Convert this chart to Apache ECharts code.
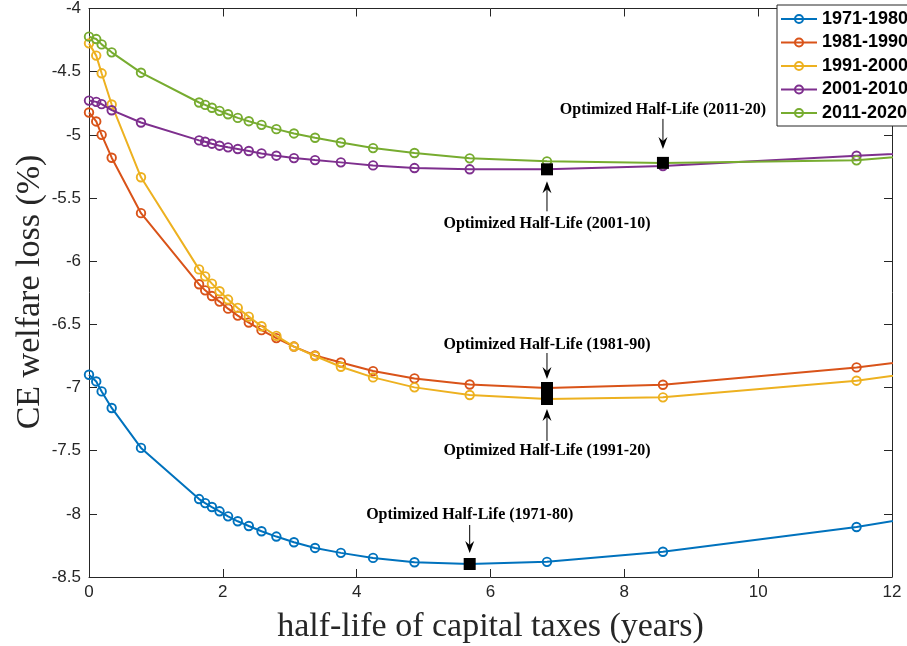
<!DOCTYPE html>
<html><head><meta charset="utf-8">
<script src="https://cdn.jsdelivr.net/npm/echarts@6/dist/echarts.min.js"></script>
<style>html,body{margin:0;padding:0;background:#fff}#c{width:907px;height:646px}</style>
</head><body><div id="c"></div>
<script>
// half-life of capital taxes (years)
const halfLife = [0, 0.108, 0.189, 0.339, 0.777, 1.645, 1.736, 1.837, 1.951, 2.078, 2.223, 2.388,
  2.578, 2.800, 3.063, 3.378, 3.764, 4.245, 4.864, 5.689, 6.844, 8.577, 11.47, 17.24];
// CE welfare loss (%)
const loss1971 = [-6.899, -6.952, -7.031, -7.162, -7.478, -7.883, -7.915, -7.946, -7.980, -8.020, -8.059, -8.096,
  -8.138, -8.180, -8.225, -8.270, -8.309, -8.349, -8.383, -8.397, -8.380, -8.300, -8.104, -7.61];
const loss1981 = [-4.823, -4.894, -5.000, -5.181, -5.620, -6.183, -6.231, -6.276, -6.320, -6.376, -6.431, -6.486,
  -6.546, -6.609, -6.676, -6.747, -6.802, -6.870, -6.928, -6.976, -7.004, -6.978, -6.841, -6.47];
const loss1991 = [-4.276, -4.373, -4.513, -4.760, -5.336, -6.065, -6.120, -6.178, -6.238, -6.304, -6.370, -6.439,
  -6.515, -6.591, -6.676, -6.751, -6.836, -6.920, -6.999, -7.059, -7.091, -7.078, -6.946, -6.54];
const loss2001 = [-4.729, -4.739, -4.757, -4.805, -4.902, -5.044, -5.055, -5.070, -5.086, -5.099, -5.112, -5.128,
  -5.147, -5.165, -5.184, -5.200, -5.218, -5.242, -5.263, -5.273, -5.273, -5.247, -5.165, -5.02];
const loss2011 = [-4.223, -4.242, -4.284, -4.347, -4.508, -4.744, -4.763, -4.786, -4.810, -4.837, -4.866, -4.892,
  -4.921, -4.955, -4.989, -5.023, -5.061, -5.105, -5.144, -5.186, -5.210, -5.222, -5.202, -4.94];

const seriesNames = ['1971-1980', '1981-1990', '1991-2000', '2001-2010', '2011-2020'];
const seriesValues = [loss1971, loss1981, loss1991, loss2001, loss2011];
const seriesColors = ['#0072BD', '#D95319', '#EDB120', '#7E2F8E', '#77AC30'];

// optimum (minimum-loss) point index per series, with its annotation
const optimumIndex = [19, 20, 20, 20, 21];
const optimumLabels = ['Optimized Half-Life (1971-80)', 'Optimized Half-Life (1981-90)',
  'Optimized Half-Life (1991-20)', 'Optimized Half-Life (2001-10)', 'Optimized Half-Life (2011-20)'];

const xAxisMin = 0, xAxisMax = 12, xAxisStep = 2;
const yAxisMin = -8.5, yAxisMax = -4, yAxisStep = 0.5;
const xAxisTitle = 'half-life of capital taxes (years)';
const yAxisTitle = 'CE welfare loss (%)';

// annotation layout (pixel offsets from the marked point): [text, arrow tail, arrow tip]
const annotLayout = [[-49, -39, -11], [-43, -35, -9], [52, 42, 10], [55, 42, 12], [-53, -44, -14]];

const AX = '#262626';
const chart = echarts.init(document.getElementById('c'), null, {renderer: 'canvas'});

function axisBase(pos, showLabel) {
  return {
    position: pos,
    axisLine: {show: true, onZero: false, lineStyle: {color: AX, width: 1}},
    axisTick: {show: true, inside: true, length: 8, lineStyle: {color: AX, width: 1}},
    axisLabel: {show: showLabel, color: AX, fontSize: 17, fontFamily: '"Liberation Sans", Arial, sans-serif'},
    splitLine: {show: false}
  };
}

const series = seriesNames.map((name, i) => ({
  name: name,
  type: 'line',
  data: halfLife.map((x, k) => [x, seriesValues[i][k]]),
  symbol: 'circle',
  symbolSize: 8.5,
  showAllSymbol: true,
  clip: true,
  lineStyle: {color: seriesColors[i], width: 2},
  itemStyle: {color: 'rgba(255,255,255,0)', borderColor: seriesColors[i], borderWidth: 1.9},
  emphasis: {disabled: true},
  z: 2 + i
}));

series.push({
  name: 'optimum',
  type: 'scatter',
  data: optimumIndex.map((k, i) => [halfLife[k], seriesValues[i][k]]),
  symbol: 'rect',
  symbolSize: 12,
  itemStyle: {color: '#000', opacity: 1},
  emphasis: {disabled: true},
  z: 20,
  silent: true
});

chart.setOption({
  animation: false,
  backgroundColor: '#fff',
  grid: {left: 89, top: 7, width: 803, height: 570},
  xAxis: [
    Object.assign({type: 'value', min: xAxisMin, max: xAxisMax, interval: xAxisStep}, axisBase('bottom', true),
      {axisLabel: {show: true, color: AX, fontSize: 17, margin: 7, fontFamily: '"Liberation Sans", Arial, sans-serif'}}),
    Object.assign({type: 'value', min: xAxisMin, max: xAxisMax, interval: xAxisStep}, axisBase('top', false))
  ],
  yAxis: [
    Object.assign({type: 'value', min: yAxisMin, max: yAxisMax, interval: yAxisStep}, axisBase('left', true),
      {axisLabel: {show: true, color: AX, fontSize: 17, margin: 8, fontFamily: '"Liberation Sans", Arial, sans-serif'}}),
    Object.assign({type: 'value', min: yAxisMin, max: yAxisMax, interval: yAxisStep}, axisBase('right', false))
  ],
  legend: {
    data: seriesNames,
    orient: 'vertical',
    left: 777, top: 5,
    padding: [5, 8, 4, 3],
    itemWidth: 36, itemHeight: 10, itemGap: 5.5,
    borderColor: AX, borderWidth: 1, backgroundColor: '#fff',
    textStyle: {fontSize: 18, fontWeight: 'bold', color: '#000', fontFamily: '"Liberation Sans", Arial, sans-serif'},
    selectedMode: false
  },
  series: series
});

const gfx = [
  {type: 'text', x: 490.5, y: 627, silent: true,
   style: {text: xAxisTitle, align: 'center', verticalAlign: 'middle', textAlign: 'center', textVerticalAlign: 'middle',
     font: '34px "Liberation Serif", "Times New Roman", serif', fill: AX}},
  {type: 'text', x: 30, y: 292, rotation: Math.PI / 2, silent: true,
   style: {text: yAxisTitle, align: 'center', verticalAlign: 'middle', textAlign: 'center', textVerticalAlign: 'middle',
     font: '34px "Liberation Serif", "Times New Roman", serif', fill: AX}}
];

optimumIndex.forEach((k, i) => {
  const p = chart.convertToPixel({gridIndex: 0}, [halfLife[k], seriesValues[i][k]]);
  const [dText, dTail, dTip] = annotLayout[i];
  const px = p[0], py = p[1];
  const tip = py + dTip, tail = py + dTail;
  const s = dTip < 0 ? -1 : 1; // -1: arrow points down; +1: arrow points up
  gfx.push({type: 'text', x: px, y: py + dText, silent: true, z: 30,
    style: {text: optimumLabels[i], align: 'center', verticalAlign: 'middle', textAlign: 'center', textVerticalAlign: 'middle',
      font: 'bold 16px "Liberation Serif", "Times New Roman", serif', fill: '#000'}});
  gfx.push({type: 'line', silent: true, z: 30,
    shape: {x1: px, y1: tail, x2: px, y2: tip + s * 6}, style: {stroke: '#000', lineWidth: 1}});
  gfx.push({type: 'polygon', silent: true, z: 30,
    shape: {points: [[px, tip], [px - 4.5, tip + s * 12], [px, tip + s * 8], [px + 4.5, tip + s * 12]]},
    style: {fill: '#000'}});
});

chart.setOption({graphic: gfx});
</script></body></html>
